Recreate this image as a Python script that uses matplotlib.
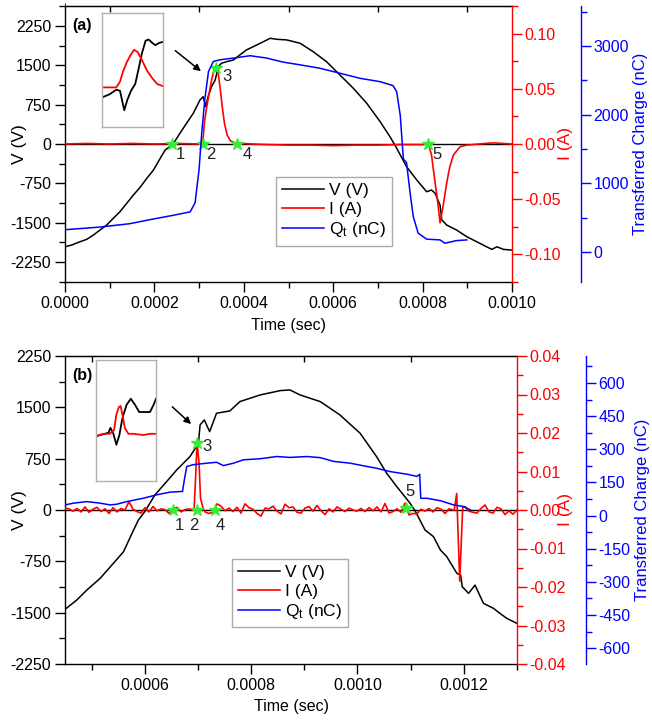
import numpy as np
import matplotlib
matplotlib.use('Agg')
import matplotlib.pyplot as plt
from matplotlib.ticker import MultipleLocator, FormatStrFormatter, NullFormatter

plt.rcParams['font.family'] = ['Liberation Sans', 'DejaVu Sans']
plt.rcParams['axes.unicode_minus'] = False
plt.rcParams['mathtext.fontset'] = 'custom'
plt.rcParams['mathtext.rm'] = 'Liberation Sans'
plt.rcParams['mathtext.it'] = 'Liberation Sans'

# ---------------- Panel (a) data ----------------
t_V_a = [0, 0.000015, 0.0000336, 0.0000485, 0.0000634, 0.0000783, 0.0000932, 0.000108,
         0.000123, 0.000138, 0.000153, 0.000168, 0.000183, 0.000198, 0.000213, 0.000224,
         0.000242, 0.000257, 0.000272, 0.000287, 0.000302, 0.000309, 0.000315, 0.00032,
         0.000328, 0.000336, 0.000343, 0.00035, 0.000362, 0.000377, 0.000391, 0.000406,
         0.000429, 0.000444, 0.000459, 0.000474, 0.000496, 0.000526, 0.000555, 0.000585,
         0.000615, 0.000645, 0.000675, 0.000705, 0.000727, 0.000742, 0.000764, 0.000787,
         0.000809, 0.00082, 0.000828, 0.000839, 0.000843, 0.000854, 0.000876, 0.000899,
         0.000921, 0.000943, 0.000955, 0.000966, 0.000981, 0.001]
V_a = [-1960, -1927, -1864, -1819, -1737, -1641, -1546, -1418,
       -1291, -1132, -973, -827, -655, -496, -273, -115,
       0, 204, 395, 586, 840, 903, 712, 903,
       1094, 1221, 1475, 1540, 1571, 1603, 1698, 1794,
       1889, 1952, 2016, 1997, 1985, 1921, 1762, 1571,
       1317, 1063, 777, 426, 140, -80, -432, -687,
       -910, -878, -941, -1164, -1450, -1546, -1641, -1769,
       -1864, -1960, -2010, -1960, -2010, -2023]

t_I_a = [0, 0.00005, 0.0001, 0.00015, 0.0002, 0.00025, 0.0003, 0.000305, 0.000309, 0.000312,
         0.000316, 0.000322, 0.000328, 0.000334, 0.000338, 0.000342, 0.000347, 0.000352,
         0.000357, 0.000363, 0.00037, 0.000385, 0.0004, 0.00042, 0.00045, 0.0005, 0.00055,
         0.0006, 0.00065, 0.0007, 0.00075, 0.0008, 0.000813, 0.00082, 0.000824, 0.000828,
         0.000835, 0.000839, 0.000846, 0.000854, 0.000861, 0.000869, 0.000884, 0.000899,
         0.000943, 0.000958, 0.000999]
I_a = [0.0, 0.0005, 0.0, 0.0005, 0.0, 0.0005, 0.0, 0.001, 0.005, 0.02,
       0.031, 0.045, 0.058, 0.068, 0.071, 0.066, 0.051, 0.033,
       0.018, 0.008, 0.003, 0.0, 0.0005, 0.0, -0.0005, -0.001, -0.001,
       -0.0015, -0.001, -0.001, -0.0005, -0.0005, 0.0, -0.01, -0.023, -0.035,
       -0.0565, -0.0714, -0.056, -0.035, -0.0204, -0.0099, -0.0024, -0.001,
       0.0006, 0.001, 0.0]

t_Q_a = [0, 0.0000783, 0.000145, 0.00019, 0.000242, 0.00028, 0.000291, 0.0003, 0.000306,
         0.000313, 0.000321, 0.000332, 0.000347, 0.000377, 0.000414, 0.000451, 0.000488,
         0.000526, 0.00057, 0.000615, 0.00066, 0.000705, 0.000734, 0.000742, 0.00075,
         0.000757, 0.000764, 0.000772, 0.000779, 0.00079, 0.000809, 0.000839, 0.00085,
         0.000876, 0.000899]
Q_a = [324, 363, 412, 471, 534, 584, 716, 1206, 1745,
       2235, 2627, 2775, 2799, 2824, 2858, 2824, 2765,
       2725, 2676, 2603, 2529, 2480, 2422, 2333, 1990,
       1353, 1304, 863, 519, 275, 187, 176, 128,
       166, 176]

star_t_a = [0.000239, 0.000309, 0.000338, 0.000385, 0.000812]
star_I_a = [0.0, 0.0, 0.0685, 0.0, 0.0]
num_labels = ['1', '2', '3', '4', '5']
num_t_a = [0.000257, 0.000327, 0.000362, 0.000407, 0.000832]
num_I_a = [-0.0099, -0.0099, 0.0613, -0.0099, -0.0099]

inset_a_black_x = [0.01, 0.12, 0.23, 0.29, 0.36, 0.41, 0.47, 0.54, 0.59, 0.65, 0.71, 0.76, 0.82, 0.87, 0.93, 1.0]
inset_a_black_y = [0.265, 0.29, 0.33, 0.32, 0.15, 0.24, 0.32, 0.38, 0.5, 0.65, 0.76, 0.77, 0.74, 0.72, 0.74, 0.75]
inset_a_red_x = [0.0, 0.23, 0.29, 0.34, 0.40, 0.46, 0.52, 0.58, 0.65, 0.73, 0.82, 0.90, 1.0]
inset_a_red_y = [0.35, 0.35, 0.40, 0.49, 0.57, 0.63, 0.68, 0.66, 0.59, 0.50, 0.43, 0.38, 0.36]

# ---------------- Panel (b) data ----------------
t_V_b = [0.00045, 0.000472, 0.000491, 0.000516, 0.000541, 0.00056, 0.000579, 0.000588,
         0.0006, 0.000619, 0.000641, 0.00066, 0.000685, 0.000701, 0.000704, 0.000712,
         0.000722, 0.000735, 0.00076, 0.000779, 0.000817, 0.000855, 0.000873, 0.000892,
         0.00093, 0.000967, 0.001005, 0.001036, 0.001055, 0.001074, 0.001099, 0.001109,
         0.001127, 0.001143, 0.001156, 0.001168, 0.001187, 0.001194, 0.001197, 0.001209,
         0.001221, 0.001237, 0.001256, 0.001268, 0.001281, 0.0013]
V_b = [-1452, -1316, -1170, -999, -779, -610, -292, -146,
       -24, 219, 414, 585, 780, 975, 1243, 1316,
       1145, 1414, 1447, 1584, 1681, 1745, 1754, 1681,
       1584, 1389, 1121, 779, 536, 341, 98, -20,
       -292, -390, -585, -682, -926, -950, -1121, -1218,
       -1097, -1364, -1438, -1511, -1584, -1657]

# current baseline record (mA), uniformly sampled over 0.00045..0.0013 s; nan = spike region
I_b_base_mA = [0.5, 0.3, -0.3, 0.4, -0.5, 0.8, -0.6, 0.2, 0.7, -0.4,
               0.3, -0.9, 0.6, -0.5, 0.4, 0.0, 2.2, 0.2, -0.4, -0.8,
               0.6, -0.5, 0.9, -0.2, 0.3, 0.1, -0.9, 0.2, 0.7, -0.5,
               0.1, 0.3, 0.0, np.nan, np.nan, -0.5, -0.9, -0.6, 1.6, 1.0,
               -0.2, 0.5, -0.4, 0.7, -0.8, 1.6, 0.6, 0.2, -0.9, -1.6,
               0.5, 0.3, 1.0, -0.3, -1.0, 1.5, 0.6, 0.8, -0.6, -0.8,
               0.5, 0.9, -0.3, 1.2, -0.2, -1.2, 0.3, -0.5, 0.8, 0.2,
               -0.4, 0.5, 0.0, -0.3, 0.4, -0.4, 0.6, -0.2, 0.8, -0.5,
               1.7, -0.8, -0.4, 0.3, -0.6, 1.8, -1.3, -0.9, -1.0, 0.2,
               -0.3, 0.4, -0.5, 0.6, 0.2, -0.9, 0.3, 0.0, np.nan, np.nan,
               0.9, -0.3, -0.6, -0.8, 0.4, 1.3, -0.5, -0.8, 0.7, 0.3,
               -1.2, -0.2, -1.1, 0.0]
t_I_b_spikes = [0.0006927, 0.0006955, 0.0006984, 0.0007021, 0.0007049, 0.0007096,
                0.001182, 0.0011866, 0.0011923, 0.0011979]
I_b_spikes = [0.0, 0.008, 0.0177, 0.012, 0.003, 0.0005,
              0.0, 0.0043, -0.0185, 0.0008]

t_Q_b = [0.00045, 0.000466, 0.000491, 0.000516, 0.000535, 0.000547, 0.000566, 0.000597,
         0.000623, 0.000648, 0.000671, 0.000675, 0.000679, 0.000691, 0.000717, 0.000735,
         0.000748, 0.000767, 0.000785, 0.000817, 0.000848, 0.000873, 0.000905, 0.00093,
         0.000955, 0.000986, 0.001018, 0.001036, 0.001061, 0.001093, 0.001112, 0.001117,
         0.001119, 0.001131, 0.001156, 0.001181, 0.001199, 0.001212]
Q_b = [48, 56, 63, 56, 48, 51, 63, 78,
       94, 106, 109, 170, 222, 230, 237, 241,
       226, 237, 252, 257, 267, 263, 267, 262,
       245, 237, 222, 214, 199, 187, 177, 187,
       78, 78, 67, 48, 41, 26]

star_t_b = [0.000653, 0.000698, 0.000698, 0.000732, 0.001091]
star_I_b = [0.0, 0.0, 0.0174, 0.0, 0.0005]
num_t_b = [0.000666, 0.000693, 0.000717, 0.000742, 0.001099]
num_I_b = [-0.0039, -0.0039, 0.0164, -0.0039, 0.0047]

inset_b_black_x = [0.0, 0.07, 0.15, 0.21, 0.24, 0.29, 0.34, 0.39, 0.44, 0.51, 0.58, 0.65, 0.72, 0.82, 0.9, 0.96, 1.0]
inset_b_black_y = [0.37, 0.38, 0.39, 0.40, 0.44, 0.39, 0.30, 0.38, 0.52, 0.63, 0.68, 0.63, 0.57, 0.57, 0.57, 0.63, 0.68]
inset_b_red_x = [0.0, 0.12, 0.23, 0.30, 0.34, 0.38, 0.41, 0.44, 0.48, 0.54, 0.62, 0.79, 0.9, 1.0]
inset_b_red_y = [0.37, 0.39, 0.39, 0.42, 0.55, 0.61, 0.62, 0.55, 0.44, 0.39, 0.39, 0.38, 0.39, 0.39]

RED = '#ff0000'
BLUE = '#0000ff'
GREEN = '#33ee33'
W, H = 652, 720
TICK_FS = 11.5

fig = plt.figure(figsize=(W / 100, H / 100), dpi=100)


def px_rect(x0, y0, x1, y1):
    return [x0 / W, 1 - y1 / H, (x1 - x0) / W, (y1 - y0) / H]


def make_panel(rect, xlim, vlim, ilim, qlim, vmaj, imaj, qmaj, ifmt, top_ticks,
               V_t, V, I_t, I, Q_t, Q, st, si, nt, ni, leg_anchor, tag,
               label_x, arrow, inset_rect, inset_data):
    ax = fig.add_axes(rect)
    axi = ax.twinx()
    axq = ax.twinx()
    axq.spines['right'].set_position(('outward', 69 * 0.72))

    ax.set_xlim(*xlim)
    ax.set_ylim(*vlim)
    axi.set_ylim(*ilim)
    axq.set_ylim(*qlim)

    # main axes
    ax.spines['right'].set_visible(False)
    for s in ['left', 'bottom', 'top']:
        ax.spines[s].set_linewidth(1.0)
    ax.xaxis.set_major_locator(MultipleLocator(0.0002))
    ax.xaxis.set_minor_locator(MultipleLocator(0.0001))
    ax.xaxis.set_major_formatter(FormatStrFormatter('%.4f'))
    ax.yaxis.set_major_locator(MultipleLocator(vmaj))
    ax.yaxis.set_minor_locator(MultipleLocator(vmaj / 2))
    ax.yaxis.set_major_formatter(FormatStrFormatter('%d'))
    ax.tick_params(which='major', direction='out', length=7, width=1, labelsize=TICK_FS, pad=3,
                   top=False, right=False)
    ax.tick_params(which='minor', direction='out', length=4, width=1, top=False, right=False)
    sec = ax.secondary_xaxis('top')
    sec.set_xticks(top_ticks)
    sec.xaxis.set_major_formatter(NullFormatter())
    sec.tick_params(direction='in', length=4, width=1)
    sec.xaxis.set_minor_locator(MultipleLocator(1))

    # current axis
    for s in ['left', 'top', 'bottom']:
        axi.spines[s].set_visible(False)
    axi.spines['right'].set_color(RED)
    axi.spines['right'].set_linewidth(1.0)
    axi.yaxis.set_major_locator(MultipleLocator(imaj))
    axi.yaxis.set_minor_locator(MultipleLocator(imaj / 2))
    axi.yaxis.set_major_formatter(FormatStrFormatter(ifmt))
    axi.tick_params(axis='y', which='major', colors=RED, direction='out', length=7, width=1,
                    labelsize=TICK_FS, pad=2)
    axi.tick_params(axis='y', which='minor', colors=RED, direction='out', length=4, width=1)

    # charge axis
    for s in ['left', 'top', 'bottom']:
        axq.spines[s].set_visible(False)
    axq.spines['right'].set_color(BLUE)
    axq.spines['right'].set_linewidth(1.0)
    axq.yaxis.set_major_locator(MultipleLocator(qmaj))
    axq.yaxis.set_minor_locator(MultipleLocator(qmaj / 2))
    axq.yaxis.set_major_formatter(FormatStrFormatter('%d'))
    axq.tick_params(axis='y', which='major', colors=BLUE, direction='out', length=7, width=1,
                    labelsize=TICK_FS, pad=2)
    axq.tick_params(axis='y', which='minor', colors=BLUE, direction='out', length=4, width=1)

    # lines
    ax.axhline(0, color='black', lw=1.0, zorder=1)
    lv, = ax.plot(V_t, V, color='black', lw=1.1)
    li, = axi.plot(I_t, I, color=RED, lw=1.2)
    lq, = axq.plot(Q_t, Q, color=BLUE, lw=1.1)
    axi.plot(st, si, ls='none', marker='*', ms=9, color=GREEN, zorder=5)
    for lab, x, y in zip(num_labels, nt, ni):
        axi.text(x, y, lab, ha='center', va='center', fontsize=12, color='#222222')

    ax.annotate('', xy=arrow[1], xytext=arrow[0],
                arrowprops=dict(arrowstyle='-|>', color='black', lw=1.1, mutation_scale=10))

    ax.text(0.016, tag[1], tag[0], transform=ax.transAxes, fontsize=11.5, fontweight='bold',
            ha='left', va='center')

    # labels
    ax.set_xlabel('Time (sec)', fontsize=11.5)
    ax.xaxis.set_label_coords(0.5, label_x[0])
    ax.set_ylabel('V (V)', fontsize=12.5)
    ax.yaxis.set_label_coords(label_x[1], 0.5)
    axi.set_ylabel('I (A)', fontsize=12.5, color=RED)
    axi.yaxis.set_label_coords(label_x[2], 0.5)
    axq.set_ylabel('Transferred Charge (nC)', fontsize=12, color=BLUE)
    axq.yaxis.set_label_coords(label_x[3], 0.5)

    leg = axq.legend([lv, li, lq], ['V (V)', 'I (A)', r'Q$_{\rm t}$ (nC)'],
                     loc='upper left', bbox_to_anchor=leg_anchor, fontsize=12.5,
                     frameon=True, fancybox=False, edgecolor='#aaaaaa', framealpha=1,
                     borderpad=0.35, handlelength=2.4, handletextpad=0.3,
                     labelspacing=0.2, borderaxespad=0)
    leg.get_frame().set_linewidth(1.0)

    # inset
    ins = fig.add_axes(inset_rect)
    ins.set_xlim(0, 1)
    ins.set_ylim(0, 1)
    ins.set_xticks([])
    ins.set_yticks([])
    for s in ins.spines.values():
        s.set_color('#b0b0b0')
        s.set_linewidth(1.0)
    bx, by, rx, ry = inset_data
    ins.plot(bx, by, color='black', lw=1.3)
    ins.plot(rx, ry, color=RED, lw=1.3)
    return ax


# panel (a)
make_panel(px_rect(65, 6, 512, 282), (0, 0.001), (-2632, 2632), (-0.125, 0.125), (-437, 3582),
           750, 0.05, 1000, '%.2f', [0.0001, 0.0003, 0.0005, 0.0007, 0.0009],
           t_V_a, V_a, t_I_a, I_a, t_Q_a, Q_a, star_t_a, star_I_a, num_t_a, num_I_a,
           (0.472, 0.38), ('(a)', 0.928), (-0.13, -0.085, 1.103, 1.271),
           ((0.000242, 1813), (0.000309, 1355)),
           px_rect(102.3, 13.3, 163.3, 127.3),
           (inset_a_black_x, inset_a_black_y, inset_a_red_x, inset_a_red_y))

# panel (b)
t_grid_b = np.linspace(0.00045, 0.0013, len(I_b_base_mA))
base = np.array(I_b_base_mA) / 1000.0
ok = ~np.isnan(base)
t_I_b = np.concatenate([t_grid_b[ok], t_I_b_spikes])
I_b = np.concatenate([base[ok], I_b_spikes])
order = np.argsort(t_I_b)
t_I_b = t_I_b[order]
I_b = I_b[order]

make_panel(px_rect(65, 356, 517, 664), (0.00045, 0.0013), (-2250, 2250), (-0.04, 0.04), (-672, 722),
           750, 0.01, 150, '%.2f', [0.0005, 0.0007, 0.0009, 0.0011],
           t_V_b, V_b, t_I_b, I_b, t_Q_b, Q_b, star_t_b, star_I_b, num_t_b, num_I_b,
           (0.369, 0.341), ('(b)', 0.938), (-0.114, -0.084, 1.091, 1.261),
           ((0.000648, 1535), (0.000691, 1228)),
           px_rect(96, 360, 156, 481),
           (inset_b_black_x, inset_b_black_y, inset_b_red_x, inset_b_red_y))

fig.savefig('out.png', dpi=100)
